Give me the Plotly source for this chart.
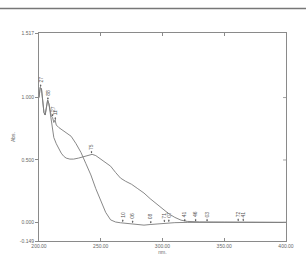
import numpy as np
import plotly.graph_objects as go

# Curve A (steep decay)
wl_a = [200, 201, 202, 203, 204, 205, 206, 207, 208, 209, 210, 211, 212, 213, 214, 216, 219, 222, 226,
        230, 234, 238, 242, 246, 250, 254, 258, 262, 266, 270, 275, 280, 285, 290, 295, 300, 310,
        320, 340, 360, 380, 400]
abs_a = [1.00, 1.08, 1.07, 0.96, 0.88, 0.86, 0.92, 0.98, 0.95, 0.88, 0.85, 0.84, 0.80, 0.82, 0.78, 0.76,
         0.74, 0.72, 0.69, 0.63, 0.56, 0.47, 0.38, 0.27, 0.17, 0.08, 0.02, 0.003, -0.003, -0.008,
         -0.013, -0.018, -0.022, -0.017, -0.012, -0.008, -0.002, 0.0, 0.0, 0.002, 0.002, 0.0]

# Curve B (hump near 243 nm)
wl_b = [200, 201, 202, 203, 204, 205, 206, 207, 208, 209, 210, 211, 212, 214, 216, 218, 220, 222, 225,
        228, 232, 236, 240, 243, 246, 250, 254, 258, 262, 266, 270, 275, 280, 285, 290, 295, 300,
        305, 310, 315, 320, 330, 350, 380, 400]
abs_b = [1.00, 1.08, 1.07, 0.96, 0.88, 0.86, 0.92, 0.98, 0.95, 0.88, 0.82, 0.74, 0.68, 0.63, 0.59, 0.555,
         0.53, 0.515, 0.507, 0.507, 0.515, 0.525, 0.54, 0.545, 0.535, 0.505, 0.48, 0.45, 0.40, 0.355,
         0.33, 0.305, 0.27, 0.235, 0.19, 0.15, 0.115, 0.07, 0.04, 0.018, 0.008, 0.004, 0.003, 0.002, 0.0]

# Peak pick labels
peaks_a_wl = [201.3, 207.2, 211.0, 213.2, 267.8, 275.8, 290.5, 301.5, 305.1, 318.0, 326.8, 336.1, 361.3, 365.4]
peaks_a_lbl = ["27", "88", "27", "11", "10", "06", "08", "71", "07", "41", "46", "03", "72", "41"]
peaks_b_wl = [242.5]
peaks_b_lbl = ["75"]

x_ticks = [200, 250, 300, 350, 400]
y_ticks = [-0.149, 0.0, 0.5, 1.0, 1.517]
y_tick_text = ["-0.149", "0.000", "0.500", "1.000", "1.517"]

line_col = "#7a7a7a"
axis_col = "#8a8a8a"
txt_col = "#666666"

fig = go.Figure()
fig.add_trace(go.Scatter(x=wl_a, y=abs_a, mode="lines", line=dict(color=line_col, width=0.9),
                         showlegend=False, hoverinfo="skip"))
fig.add_trace(go.Scatter(x=wl_b, y=abs_b, mode="lines", line=dict(color=line_col, width=0.9),
                         showlegend=False, hoverinfo="skip"))

annots = []
for w, t in zip(peaks_a_wl, peaks_a_lbl):
    annots.append(dict(x=w, y=float(np.interp(w, wl_a, abs_a)), text=t, textangle=-90,
                       showarrow=True, ax=0, ay=-8, arrowhead=2, arrowsize=0.5, arrowwidth=0.7,
                       arrowcolor="#555", standoff=1, font=dict(size=5, color="#555"),
                       xref="x", yref="y"))
for w, t in zip(peaks_b_wl, peaks_b_lbl):
    annots.append(dict(x=w, y=float(np.interp(w, wl_b, abs_b)), text=t, textangle=-90,
                       showarrow=True, ax=0, ay=-8, arrowhead=2, arrowsize=0.5, arrowwidth=0.7,
                       arrowcolor="#555", standoff=1, font=dict(size=5, color="#555"),
                       xref="x", yref="y"))

shapes = [dict(type="line", xref="paper", yref="paper", x0=-0.2, x1=1.2, y0=1.118, y1=1.118,
               line=dict(color="#777", width=1.5))]
for v in y_ticks[1:-1]:
    shapes.append(dict(type="line", xref="paper", yref="y", x0=1.0, x1=0.988, y0=v, y1=v,
                       line=dict(color=axis_col, width=0.8)))

fig.update_layout(
    width=306, height=266,
    margin=dict(l=33, r=14, t=33, b=17),
    paper_bgcolor="white", plot_bgcolor="white",
    font=dict(family="Liberation Sans, Arial, sans-serif", size=5, color=txt_col),
    annotations=annots, shapes=shapes,
    xaxis=dict(range=[200, 400], tickvals=x_ticks, ticktext=[f"{v:.2f}" for v in x_ticks],
               showgrid=False, zeroline=False, showline=True, linecolor=axis_col, linewidth=1,
               mirror="ticks", ticks="inside", ticklen=3, tickcolor=axis_col, tickwidth=0.8,
               tickfont=dict(size=5, color=txt_col),
               title=dict(text="nm.", font=dict(size=5, color=txt_col), standoff=1)),
    yaxis=dict(range=[-0.149, 1.517], tickvals=y_ticks, ticktext=y_tick_text,
               showgrid=False, zeroline=False, showline=True, linecolor=axis_col, linewidth=1,
               mirror=True, ticks="outside", ticklen=3, tickcolor=axis_col, tickwidth=0.8,
               tickfont=dict(size=5, color=txt_col),
               title=dict(text="Abs.", font=dict(size=5, color=txt_col), standoff=4)),
)

fig.write_html("out.html")
